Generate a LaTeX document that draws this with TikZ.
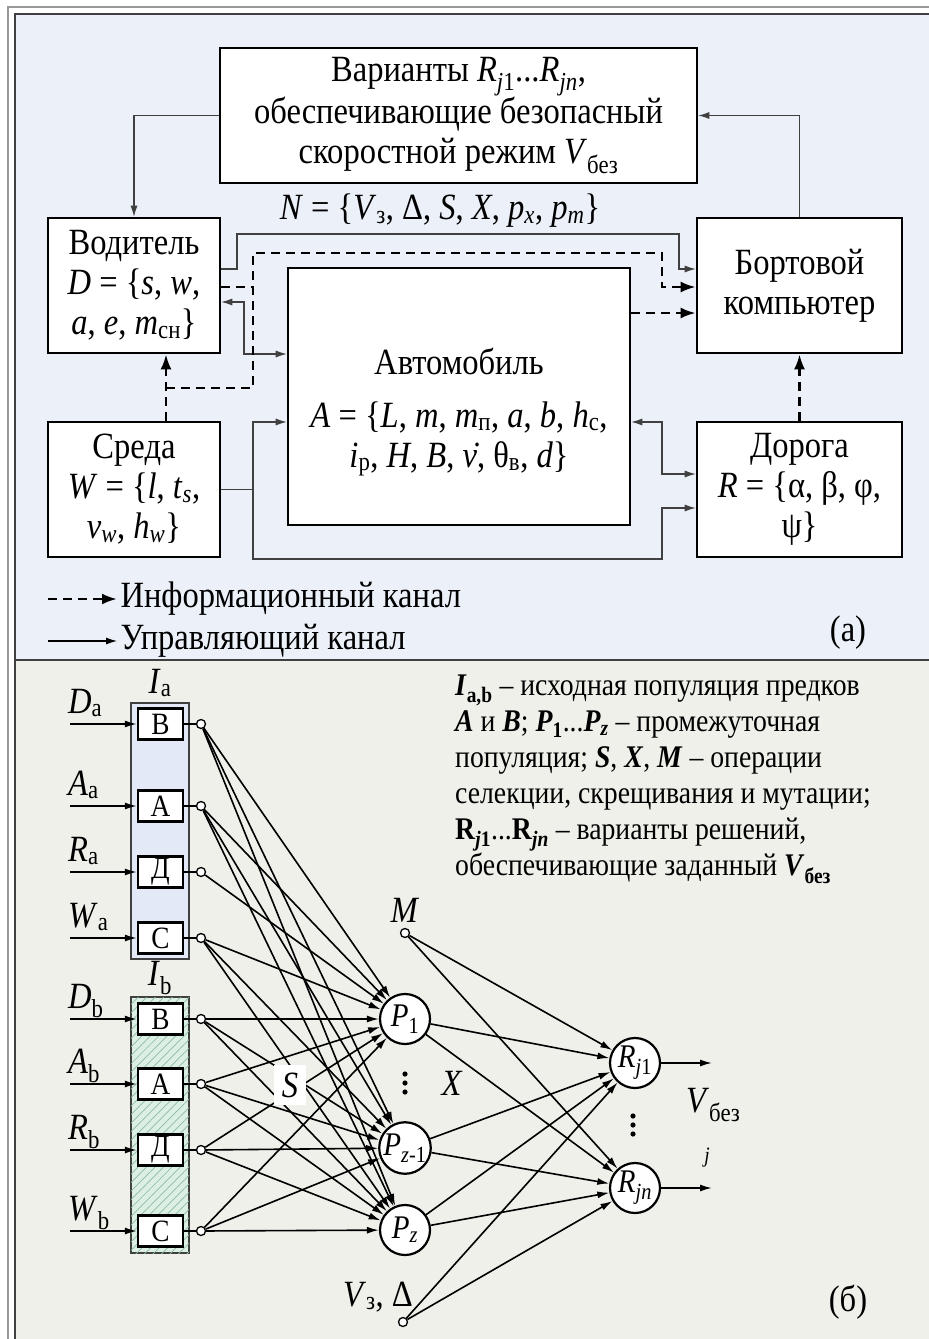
\documentclass[tikz,border=0pt]{standalone}
\usepackage{fontspec}
\setmainfont{Liberation Serif}[FakeStretch=0.88]
\usetikzlibrary{arrows.meta, patterns.meta, positioning}

\definecolor{panelA}{HTML}{ECF0F9}
\definecolor{panelB}{HTML}{EFF0EA}
\definecolor{popA}{HTML}{E3E9F6}
\definecolor{popB}{HTML}{DCEFE4}
\definecolor{hatch}{HTML}{8DBBA2}

\newcommand{\sbs}[1]{\textsubscript{#1}}
\newcommand{\bvar}[1]{\textbf{\textit{#1}}}

\begin{document}
\begin{tikzpicture}[x=1pt, y=-1pt,
    big/.style={font=\fontsize{37}{40}\selectfont},
    blk/.style={draw, line width=2.6pt, fill=white, align=center, inner sep=0pt, big},
    ctrl/.style={draw=black!75, line width=1.1pt, -{Latex[length=11pt,width=7pt]}},
    info/.style={line width=2.6pt, dash pattern=on 9pt off 6pt, -{Latex[length=15pt,width=11pt]}},
    grp/.style={draw=black!75, line width=1.2pt, minimum width=58pt, minimum height=256pt, inner sep=0pt},
    gene/.style={draw, line width=2.4pt, fill=white, minimum width=45pt, minimum height=31pt, inner sep=0pt, font=\fontsize{31}{31}\selectfont},
    pin/.style={circle, draw, line width=1.3pt, fill=white, inner sep=0pt, minimum size=9pt},
    pop/.style={circle, draw, line width=2.2pt, fill=white, inner sep=0pt, minimum size=50pt, font=\fontsize{33}{33}\selectfont},
    link/.style={line width=1.6pt, -{Latex[length=12pt,width=7pt]}},
  ]
  \useasboundingbox (0,0) rectangle (929,1339);

  % panels
  \fill[white] (0,0) rectangle (929,1339);
  \fill[panelA] (15,14) rectangle (929,660);
  \fill[panelB] (15,660) rectangle (929,1339);
  \draw[black!40, line width=1.2pt] (8,1339) -- (8,7) -- (929,7);
  \draw[black!75, line width=1.4pt] (15,1339) -- (15,14) -- (929,14);
  \draw[black!75, line width=1.4pt] (15,660) -- (929,660);

  % (a) blocks
  \node[blk, minimum width=477pt, minimum height=135pt] (var) at (458.5,115.5)
    {Варианты \textit{R}\sbs{\textit{j}1}...\textit{R}\sbs{\textit{jn}},\\
     обеспечивающие безопасный\\
     скоростной режим \textit{V}\sbs{без}};
  \node[blk, minimum width=172pt, minimum height=135pt] (drv) at (134,285.5)
    {Водитель\\ \textit{D} = \{\textit{s}, \textit{w},\\ \textit{a}, \textit{e}, \textit{m}\sbs{сн}\}};
  \node[blk, minimum width=342pt, minimum height=257pt] (car) at (459,396.5) {};
  \node[big, align=center] (carlbl) at (459,412)
    {Автомобиль\\[13pt]
     \textit{A} = \{\textit{L}, \textit{m}, \textit{m}\sbs{п}, \textit{a}, \textit{b}, \textit{h}\sbs{с},\\
     \textit{i}\sbs{р}, \textit{H}, \textit{B}, \.{\textit{v}}, θ\sbs{в}, \textit{d}\}};
  \node[blk, minimum width=205pt, minimum height=135pt] (bort) at (799.5,285.5) {Бортовой\\компьютер};
  \node[blk, minimum width=172pt, minimum height=135pt] (env) at (134,489.5)
    {Среда\\ \textit{W} = \{\textit{l}, \textit{t}\sbs{\textit{s}},\\ \textit{v}\sbs{\textit{w}}, \textit{h}\sbs{\textit{w}}\}};
  \node[blk, minimum width=205pt, minimum height=135pt] (road) at (799.5,489.5)
    {Дорога\\ \textit{R} = \{α, β, φ,\\ ψ\}};
  \node[big] (nset) at (440,211)
    {\textit{N} = \{\textit{V}\sbs{з}, Δ, \textit{S}, \textit{X}, \textit{p}\sbs{\textit{x}}, \textit{p}\sbs{\textit{m}}\}};

  \coordinate (ej) at (166,388);
  \coordinate (wj) at (253,489);

  \draw[ctrl] (var.west) -| (drv.north);
  \draw[ctrl] (bort.north) |- (var.east);
  \draw[ctrl] (drv.east |- 0,269) -| (237,234) -| (679,269) -- (bort.west |- 0,269);
  \draw[ctrl, {Latex[length=11pt,width=7pt]}-{Latex[length=11pt,width=7pt]}]
    (drv.east |- 0,302) -| (244,354) -- (car.west |- 0,354);
  \draw[ctrl] (env.east) -| (253,422) -- (car.west |- 0,422);
  \draw[ctrl] (wj) |- (662,559) |- (road.west |- 0,508);
  \draw[ctrl, {Latex[length=11pt,width=7pt]}-{Latex[length=11pt,width=7pt]}]
    (car.east |- 0,422) -| (662,474) -- (road.west |- 0,474);

  \draw[info] (env.north -| ej) -- (drv.south -| ej);
  \draw[info, -] (drv.east |- 0,287) -- (253,287);
  \draw[info] (ej) -| (253,253) -| (662,287) -- (bort.west |- 0,287);
  \draw[info] (car.east |- 0,313) -- (bort.west |- 0,313);
  \draw[info] (road.north) -- (bort.south);

  % legend
  \coordinate (lg1) at (48,599);
  \coordinate (lg2) at (48,641);
  \node[big, anchor=west] (lgi) at (117,599) {Информационный канал};
  \node[big, anchor=west] (lgc) at (117,641) {Управляющий канал};
  \draw[info] (lg1) -- (lgi.west);
  \draw[ctrl, draw=black] (lg2) -- (lgc.west);
  \node[big] (tagA) at (848,633) {(а)};

  % (b) populations
  \node[grp, fill=popA] (Ia) at (160,831) {};
  \node[grp, fill=popB, postaction={pattern={Lines[angle=45,distance=6pt,line width=0.7pt]}, pattern color=hatch}] (Ib) at (160,1125) {};
  \node[big] (Ialbl) at (160,683) {\textit{I}\sbs{a}};
  \node[big] (Iblbl) at (160,978) {\textit{I}\sbs{b}};

  \foreach \k/\lt/\nm/\y in {1/В/D/724, 2/А/A/806, 3/Д/R/872, 4/С/W/938}{
    \node[gene] (a\k) at (160.5,\y) {\lt};
    \node[pin] (oa\k) at (201,\y) {};
    \coordinate (ia\k) at (70,\y);
    \node[big, anchor=base west, inner sep=0pt] (la\k) at (68,\y-11) {\textit{\nm}\sbs{a}};
    \draw[link] (ia\k) -- (a\k);
    \draw[line width=1.6pt] (a\k) -- (oa\k);
  }
  \foreach \k/\lt/\nm/\y in {1/В/D/1019, 2/А/A/1084, 3/Д/R/1150, 4/С/W/1231}{
    \node[gene] (b\k) at (160.5,\y) {\lt};
    \node[pin] (ob\k) at (201,\y) {};
    \coordinate (ib\k) at (70,\y);
    \node[big, anchor=base west, inner sep=0pt] (lb\k) at (68,\y-11) {\textit{\nm}\sbs{b}};
    \draw[link] (ib\k) -- (b\k);
    \draw[line width=1.6pt] (b\k) -- (ob\k);
  }

  \node[pop] (p1) at (405,1019) {\textit{P}\sbs{1}};
  \node[pop] (pz1) at (405,1148) {\textit{P}\sbs{\textit{z}-1}};
  \node[pop] (pz) at (405,1230) {\textit{P}\sbs{\textit{z}}};
  \node[pop] (r1) at (635,1063) {\textit{R}\sbs{\textit{j}1}};
  \node[pop] (rn) at (635,1188) {\textit{R}\sbs{\textit{jn}}};
  \node[pin] (mut) at (405,933) {};
  \node[pin] (vz) at (403,1322) {};
  \node[big] (mlbl) at (405,910) {\textit{M}};
  \node[big, anchor=base west, inner sep=0pt] (vzlbl) at (343,1306) {\textit{V}\sbs{з}, Δ};
  \coordinate (out1) at (712,1063);
  \coordinate (outn) at (712,1188);

  \foreach \s in {oa1,oa2,oa4,ob1,ob2,ob3,ob4}
    \foreach \t in {p1,pz1,pz}
      \draw[link] (\s) -- (\t);
  \draw[link] (oa3) -- (p1);
  \foreach \s in {p1,pz1,pz,mut,vz}
    \foreach \t in {r1,rn}
      \draw[link] (\s) -- (\t);
  \draw[link] (r1) -- (out1);
  \draw[link] (rn) -- (outn);

  \node[big, fill=white, minimum width=32pt, minimum height=40pt, inner sep=0pt] (sel) at (290,1085) {\textit{S}};
  \node[big] (xop) at (452,1083) {\textit{X}};
  \foreach \d in {-9,0,9}{
    \fill (405,1083+\d) circle (2.6pt);
    \fill (633,1125+\d) circle (2.6pt);
  }
  \node[big, anchor=base west, inner sep=0pt] (vout) at (686,1112) {\textit{V}\sbs{без}};
  \node[font=\fontsize{22}{22}\selectfont\itshape] (jlbl) at (707,1158) {j};

  % notes
  \node[anchor=north west, align=left, inner sep=0pt, font=\fontsize{31.5}{36}\selectfont] (note) at (455,675)
    {\bvar{I}\sbs{\textbf{a,b}} – исходная популяция предков\\
     \bvar{A} и \bvar{B}; \bvar{P}\sbs{\textbf{1}}...\bvar{P}\sbs{\bvar{z}} – промежуточная\\
     популяция; \bvar{S}, \bvar{X}, \bvar{M} – операции\\
     селекции, скрещивания и мутации;\\
     \textbf{R}\sbs{\bvar{j}\textbf{1}}...\textbf{R}\sbs{\bvar{jn}} – варианты решений,\\
     обеспечивающие заданный \bvar{V}\sbs{\textbf{без}}};
  \node[big] (tagB) at (848,1302) {(б)};
\end{tikzpicture}
\end{document}
